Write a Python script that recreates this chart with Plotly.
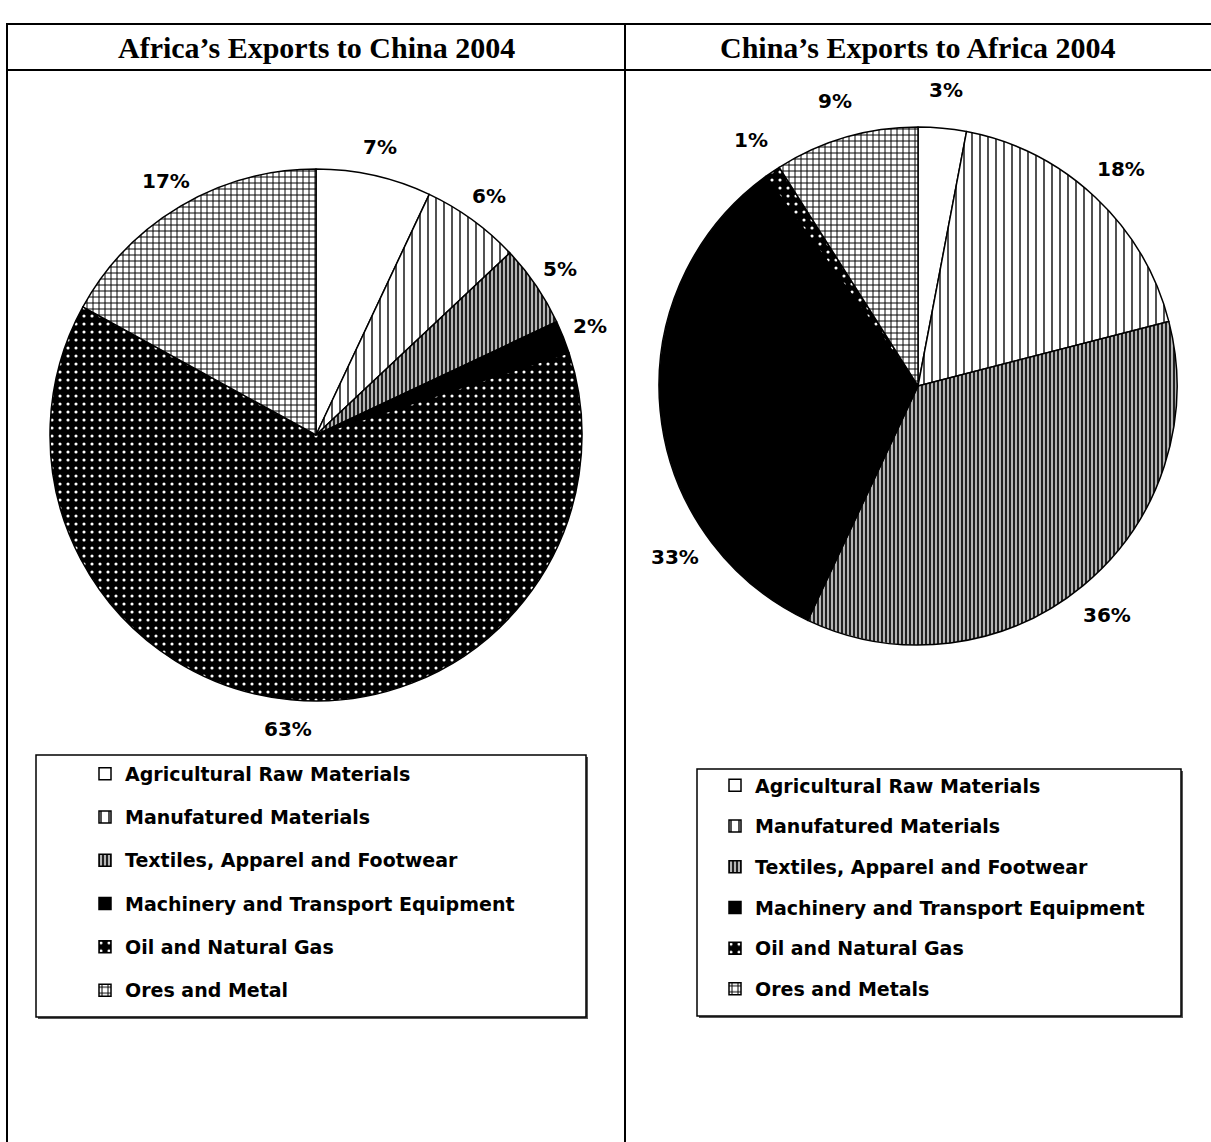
import math
import plotly.graph_objects as go

W, H = 1211, 1142

# ---------------- data ----------------
title_left = "Africa’s Exports to China 2004"
title_right = "China’s Exports to Africa 2004"

categories_left = [
    "Agricultural Raw Materials",
    "Manufatured Materials",
    "Textiles, Apparel and Footwear",
    "Machinery and Transport Equipment",
    "Oil and Natural Gas",
    "Ores and Metal",
]
categories_right = [
    "Agricultural Raw Materials",
    "Manufatured Materials",
    "Textiles, Apparel and Footwear",
    "Machinery and Transport Equipment",
    "Oil and Natural Gas",
    "Ores and Metals",
]
values_left = [7, 6, 5, 2, 63, 17]
values_right = [3, 18, 36, 33, 1, 9]

# ---------------- styles ----------------
slice_colors = ["white", "white", "white", "black", "black", "white"]
pattern = dict(
    shape=["", "|", "|", "", ".", "+"],
    fgcolor=["black", "black", "#111111", "black", "white", "black"],
    bgcolor=["white", "white", "#b5b5b5", "black", "black", "white"],
    size=[8, 8, 4, 8, 8, 6],
    solidity=[0.2, 0.17, 0.45, 0.2, 0.12, 0.3],
    fillmode="replace",
)
SANS = "DejaVu Sans, Arial, sans-serif"
TIMES = "Times New Roman, Liberation Serif, serif"

# pie geometry (pixels): centre and radius
LEFT_PIE = dict(cx=316, cy=435, r=266, gap=29)
RIGHT_PIE = dict(cx=918, cy=386, r=259, gap=38)
# where along each slice its percentage label sits (0.5 = middle)
label_anchor_left = [0.5, 0.5, 0.5, 0.5, 0.5, 0.5]
label_anchor_right = [0.5, 0.5, 0.5, 0.25, 0.5, 0.5]


def px(x):
    return x / W


def py(y):
    return 1 - y / H


def legend_labels(cats, shift):
    return ['<span style="font-size:19px;baseline-shift:%s">%s</span>' % (shift, c) for c in cats]


def domain_of(g):
    return dict(x=[px(g["cx"] - g["r"]), px(g["cx"] + g["r"])],
                y=[py(g["cy"] + g["r"]), py(g["cy"] - g["r"])])


def pct_annotations(values, g, anchors):
    total = float(sum(values))
    cum = 0.0
    out = []
    R = g["r"] + g["gap"]
    for v, f in zip(values, anchors):
        theta = 2 * math.pi * (cum + f * v) / total
        cum += v
        x = g["cx"] + R * math.sin(theta)
        y = g["cy"] - R * math.cos(theta)
        out.append(dict(text="<b>%d%%</b>" % round(100 * v / total), x=px(x), y=py(y),
                        xref="paper", yref="paper", showarrow=False,
                        xanchor="center", yanchor="middle",
                        font=dict(family=SANS, size=20, color="black")))
    return out


fig = go.Figure()

common = dict(
    sort=False,
    direction="clockwise",
    rotation=0,
    textinfo="none",
    hoverinfo="label+percent",
)

fig.add_trace(go.Pie(
    labels=legend_labels(categories_left, "5px"),
    values=values_left,
    domain=domain_of(LEFT_PIE),
    marker=dict(colors=slice_colors, line=dict(color="black", width=1.5), pattern=pattern),
    legend="legend",
    **common,
))

fig.add_trace(go.Pie(
    labels=legend_labels(categories_right, "4.5px"),
    values=values_right,
    domain=domain_of(RIGHT_PIE),
    marker=dict(colors=slice_colors, line=dict(color="black", width=1.5), pattern=pattern),
    legend="legend2",
    **common,
))

shapes = []
# table lines
for yy in (24, 70):
    shapes.append(dict(type="line", xref="paper", yref="paper", x0=px(6), x1=px(1211),
                       y0=py(yy), y1=py(yy), line=dict(color="black", width=2), layer="below"))
for xx in (7, 625):
    shapes.append(dict(type="line", xref="paper", yref="paper", x0=px(xx), x1=px(xx),
                       y0=py(24), y1=py(1142), line=dict(color="black", width=2), layer="below"))
# legend boxes with shadows
for (x0, y0, x1, y1) in ((36, 755, 586, 1017), (697, 769, 1181, 1016)):
    shapes.append(dict(type="rect", xref="paper", yref="paper", x0=px(x0 + 2), x1=px(x1 + 2),
                       y0=py(y1 + 2), y1=py(y0 + 2), fillcolor="#555555",
                       line=dict(width=0), layer="below"))
    shapes.append(dict(type="rect", xref="paper", yref="paper", x0=px(x0), x1=px(x1),
                       y0=py(y1), y1=py(y0), fillcolor="white",
                       line=dict(color="black", width=1.5), layer="below"))

annotations = [
    dict(text="<b>%s</b>" % title_left, x=px(316), y=py(47), xref="paper", yref="paper",
         showarrow=False, xanchor="center", yanchor="middle",
         font=dict(family=TIMES, size=30, color="black")),
    dict(text="<b>%s</b>" % title_right, x=px(918), y=py(47), xref="paper", yref="paper",
         showarrow=False, xanchor="center", yanchor="middle",
         font=dict(family=TIMES, size=30, color="black")),
]
annotations += pct_annotations(values_left, LEFT_PIE, label_anchor_left)
annotations += pct_annotations(values_right, RIGHT_PIE, label_anchor_right)

legend_common = dict(
    bgcolor="rgba(0,0,0,0)", borderwidth=0, xanchor="left", yanchor="top",
    orientation="v", itemclick=False, itemdoubleclick=False,
)

fig.update_layout(
    width=W, height=H,
    margin=dict(l=0, r=0, t=0, b=0),
    paper_bgcolor="white", plot_bgcolor="white",
    shapes=shapes,
    annotations=annotations,
    showlegend=True,
    legend=dict(x=px(85), y=py(747), font=dict(family=SANS, size=31, color="black", weight="bold"),
                **legend_common),
    legend2=dict(x=px(715), y=py(760), font=dict(family=SANS, size=29, color="black", weight="bold"),
                 **legend_common),
)

fig.write_html("out.html", config={"displayModeBar": False},
               post_script="document.body.style.margin='0px';")
